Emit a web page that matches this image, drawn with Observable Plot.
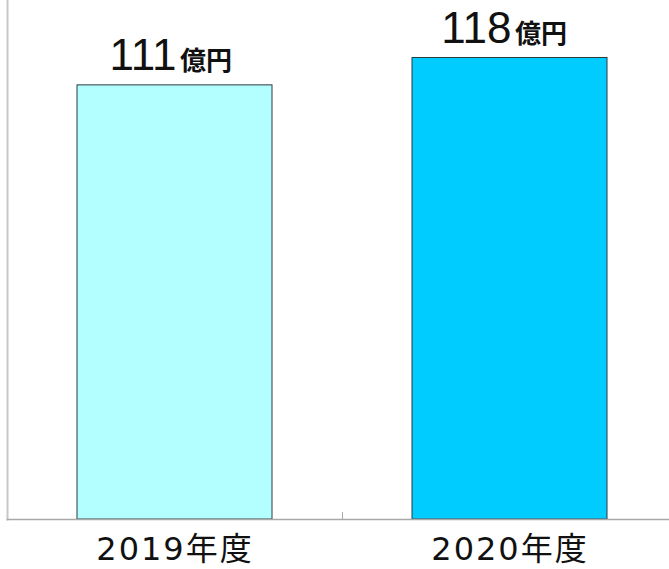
<!DOCTYPE html>
<html>
<head>
<meta charset="utf-8">
<script src="https://cdn.jsdelivr.net/npm/d3@7"></script>
<script src="https://cdn.jsdelivr.net/npm/@observablehq/plot@0.6"></script>
<style>
  html, body { margin: 0; padding: 0; background: #fff; }
  #chart svg { display: block; }
  .xlab text { letter-spacing: 2px; }
</style>
</head>
<body>
<div id="chart"></div>
<script>
const years = ["2019年度", "2020年度"];
const values = [111, 118];
const units = ["億円", "億円"];
const fills = ["#B3FFFF", "#00CCFF"];

const data = years.map((y, i) => ({year: y, value: values[i], unit: units[i], fill: fills[i]}));

const chart = Plot.plot({
  width: 669,
  height: 569,
  marginTop: 0,
  marginLeft: 7,
  marginRight: 0,
  marginBottom: 50,
  style: {background: "#fff", overflow: "visible"},
  x: {domain: years, range: [7, 677], paddingInner: 0.418, paddingOuter: 0.209, label: null},
  y: {domain: [0, 132.7], axis: null},
  color: {type: "identity"},
  marks: [
    Plot.barY(data, {x: "year", y: "value", fill: "fill", stroke: "#2a3a40", strokeWidth: 1}),
    Plot.frame({anchor: "left", stroke: "#c8c8c8", strokeWidth: 2}),
    Plot.frame({anchor: "bottom", stroke: "#a8a8a8", strokeWidth: 1.5}),
    Plot.ruleX([years[1]], {x: d => d, dx: -167.5, insetTop: 512, stroke: "#a8a8a8", strokeWidth: 1}),
    Plot.text(data, {
      x: "year", y: "value", text: d => String(d.value),
      textAnchor: "end", lineAnchor: "bottom", dx: 1.5, dy: -15,
      fontSize: 44, fontFamily: "'Liberation Sans Narrow', 'Liberation Sans', Arial, sans-serif",
      fill: "#111"
    }),
    Plot.text(data, {
      x: "year", y: "value", text: "unit",
      textAnchor: "start", lineAnchor: "bottom", dx: 5, dy: -15,
      fontSize: 26, fontWeight: "bold", fontFamily: "'Noto Sans CJK JP', sans-serif",
      fill: "#111"
    }),
    Plot.axisX({
      tickSize: 0, tickPadding: 18, fontSize: 32, label: null,
      fontFamily: "'DejaVu Sans', 'Noto Sans CJK JP', sans-serif",
      fill: "#111", className: "xlab"
    })
  ]
});
document.getElementById("chart").appendChild(chart);
</script>
</body>
</html>
